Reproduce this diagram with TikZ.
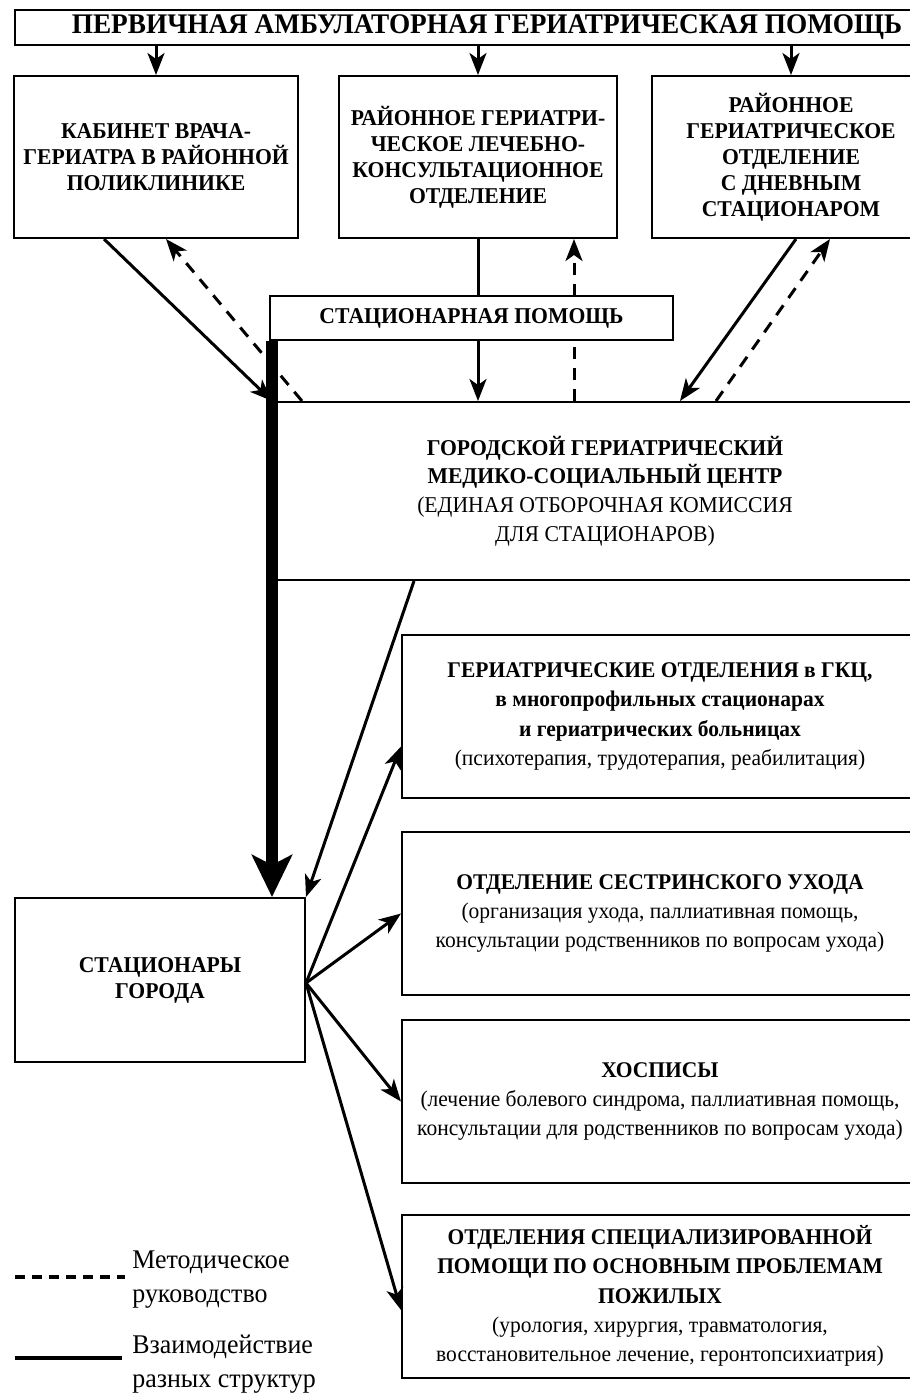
\documentclass[tikz,border=0pt]{standalone}
\usepackage{fontspec}
\setmainfont{Liberation Serif}
\newfontfamily\condserif{Liberation Serif}[FakeStretch=0.96]
\usetikzlibrary{positioning, arrows.meta, calc}

\tikzset{
	unitbox/.style={rectangle, draw, line width=1pt, fill=white, align=center, inner sep=1pt,
		font=\condserif\bfseries\fontsize{11.3}{13}\selectfont},
	deptbox/.style={unitbox, minimum width=258pt, minimum height=81.5pt,
		font=\condserif\fontsize{11.2}{14.7}\selectfont},
	linkarrow/.style={-{Stealth[length=11pt, width=8.5pt, inset=3pt]}, line width=1.5pt},
	methodarrow/.style={linkarrow, dash pattern=on 6pt off 4.5pt},
	mainarrow/.style={-{Stealth[length=21pt, width=20pt, inset=5pt]}, line width=6pt},
	legendtext/.style={anchor=west, align=left, inner sep=0pt,
		font=\condserif\fontsize{13.5}{17}\selectfont}
}

\begin{document}
\begin{tikzpicture}[x=0.5pt, y=-0.5pt]
		\useasboundingbox (0,0) rectangle (910,1393);
		\clip (0,0) rectangle (910,1393);
		% primary care level
		\node[unitbox, minimum width=472pt, minimum height=17.5pt, font=\condserif\bfseries\fontsize{14.2}{15}\selectfont] (primary) at (487,27.5) {ПЕРВИЧНАЯ АМБУЛАТОРНАЯ ГЕРИАТРИЧЕСКАЯ ПОМОЩЬ};
		\node[unitbox, minimum width=142pt, minimum height=81pt] (cabinet) at (156,157) {КАБИНЕТ ВРАЧА-\\ГЕРИАТРА В РАЙОННОЙ\\ПОЛИКЛИНИКЕ};
		\node[unitbox, minimum width=139pt, minimum height=81pt] (consult) at (478,157) {РАЙОННОЕ ГЕРИАТРИ-\\ЧЕСКОЕ ЛЕЧЕБНО-\\КОНСУЛЬТАЦИОННОЕ\\ОТДЕЛЕНИЕ};
		\node[unitbox, minimum width=139pt, minimum height=81pt] (dayward) at (791,157) {РАЙОННОЕ\\ГЕРИАТРИЧЕСКОЕ\\ОТДЕЛЕНИЕ\\С ДНЕВНЫМ\\СТАЦИОНАРОМ};
		% city centre
		\node[unitbox, minimum width=332pt, minimum height=89pt, font=\condserif\fontsize{11.3}{14.3}\selectfont] (centre) at (605,491) {\textbf{ГОРОДСКОЙ ГЕРИАТРИЧЕСКИЙ}\\\textbf{МЕДИКО-СОЦИАЛЬНЫЙ ЦЕНТР}\\(ЕДИНАЯ ОТБОРОЧНАЯ КОМИССИЯ\\ДЛЯ СТАЦИОНАРОВ)};
		% hospitals
		\node[unitbox, minimum width=145pt, minimum height=82pt] (hospitals) at (160,980) {СТАЦИОНАРЫ\\ГОРОДА};
		\node[deptbox] (geriatric) at (660,716.5) {\textbf{ГЕРИАТРИЧЕСКИЕ ОТДЕЛЕНИЯ в ГКЦ,}\\\textbf{в многопрофильных стационарах}\\\textbf{и гериатрических больницах}\\(психотерапия, трудотерапия, реабилитация)};
		\node[deptbox] (nursing) at (660,913.5) {\textbf{ОТДЕЛЕНИЕ СЕСТРИНСКОГО УХОДА}\\(организация ухода, паллиативная помощь,\\консультации родственников по вопросам ухода)};
		\node[deptbox] (hospice) at (660,1101.5) {\textbf{ХОСПИСЫ}\\(лечение болевого синдрома, паллиативная помощь,\\консультации для родственников по вопросам ухода)};
		\node[deptbox] (special) at (660,1296) {\textbf{ОТДЕЛЕНИЯ СПЕЦИАЛИЗИРОВАННОЙ}\\\textbf{ПОМОЩИ ПО ОСНОВНЫМ ПРОБЛЕМАМ}\\\textbf{ПОЖИЛЫХ}\\(урология, хирургия, травматология,\\восстановительное лечение, геронтопсихиатрия)};
		% arrows from primary care
		\draw[linkarrow] (cabinet.north |- primary.south) -- (cabinet.north);
		\draw[linkarrow] (consult.north |- primary.south) -- (consult.north);
		\draw[linkarrow] (dayward.north |- primary.south) -- (dayward.north);
		% district units and city centre
		\draw[linkarrow] ([xshift=-26pt]cabinet.south) -- (centre.north west);
		\draw[methodarrow] ([xshift=15pt]centre.north west) -- ([xshift=5pt]cabinet.south);
		\coordinate (cm) at ([xshift=-22pt]consult.south east);
		\draw[methodarrow] (cm |- centre.north) -- (cm);
		\draw[linkarrow] ([xshift=2.5pt]dayward.south) -- ([xshift=37.5pt]centre.north);
		\draw[methodarrow] ([xshift=55.5pt]centre.north) -- ([xshift=19.5pt]dayward.south);
		% inpatient care
		\node[unitbox, minimum width=201.5pt, minimum height=22pt] (inpatient) at (471.5,318) {СТАЦИОНАРНАЯ ПОМОЩЬ};
		\draw[line width=1.5pt] (consult.south) -- (consult.south |- inpatient.north);
		\draw[linkarrow] (consult.south |- inpatient.south) -- (consult.south |- centre.north);
		\draw[mainarrow] (centre.north west |- inpatient.south) -- (centre.north west |- hospitals.north);
		% hospitals and departments
		\draw[linkarrow] ([xshift=71pt]centre.south west) -- (hospitals.north east);
		\draw[linkarrow] ([yshift=-1.5pt]hospitals.east) -- ([yshift=-15pt]geriatric.west);
		\draw[linkarrow] ([yshift=-1.5pt]hospitals.east) -- (nursing.west);
		\draw[linkarrow] ([yshift=-1.5pt]hospitals.east) -- (hospice.west);
		\draw[linkarrow] ([yshift=-1.5pt]hospitals.east) -- ([yshift=-7pt]special.west);
		% legend
		\coordinate (dash1) at (15,1277);
		\coordinate (dash2) at (125,1277);
		\coordinate (solid1) at (15,1358);
		\coordinate (solid2) at (122,1358);
		\draw[line width=2.2pt, dash pattern=on 5pt off 3.5pt] (dash1) -- (dash2);
		\draw[line width=1.8pt] (solid1) -- (solid2);
		\node[legendtext] (methodtext) at (132,1280) {Методическое\\руководство};
		\node[legendtext] (linktext) at (132,1364) {Взаимодействие\\разных структур};
	\end{tikzpicture}
\end{document}
